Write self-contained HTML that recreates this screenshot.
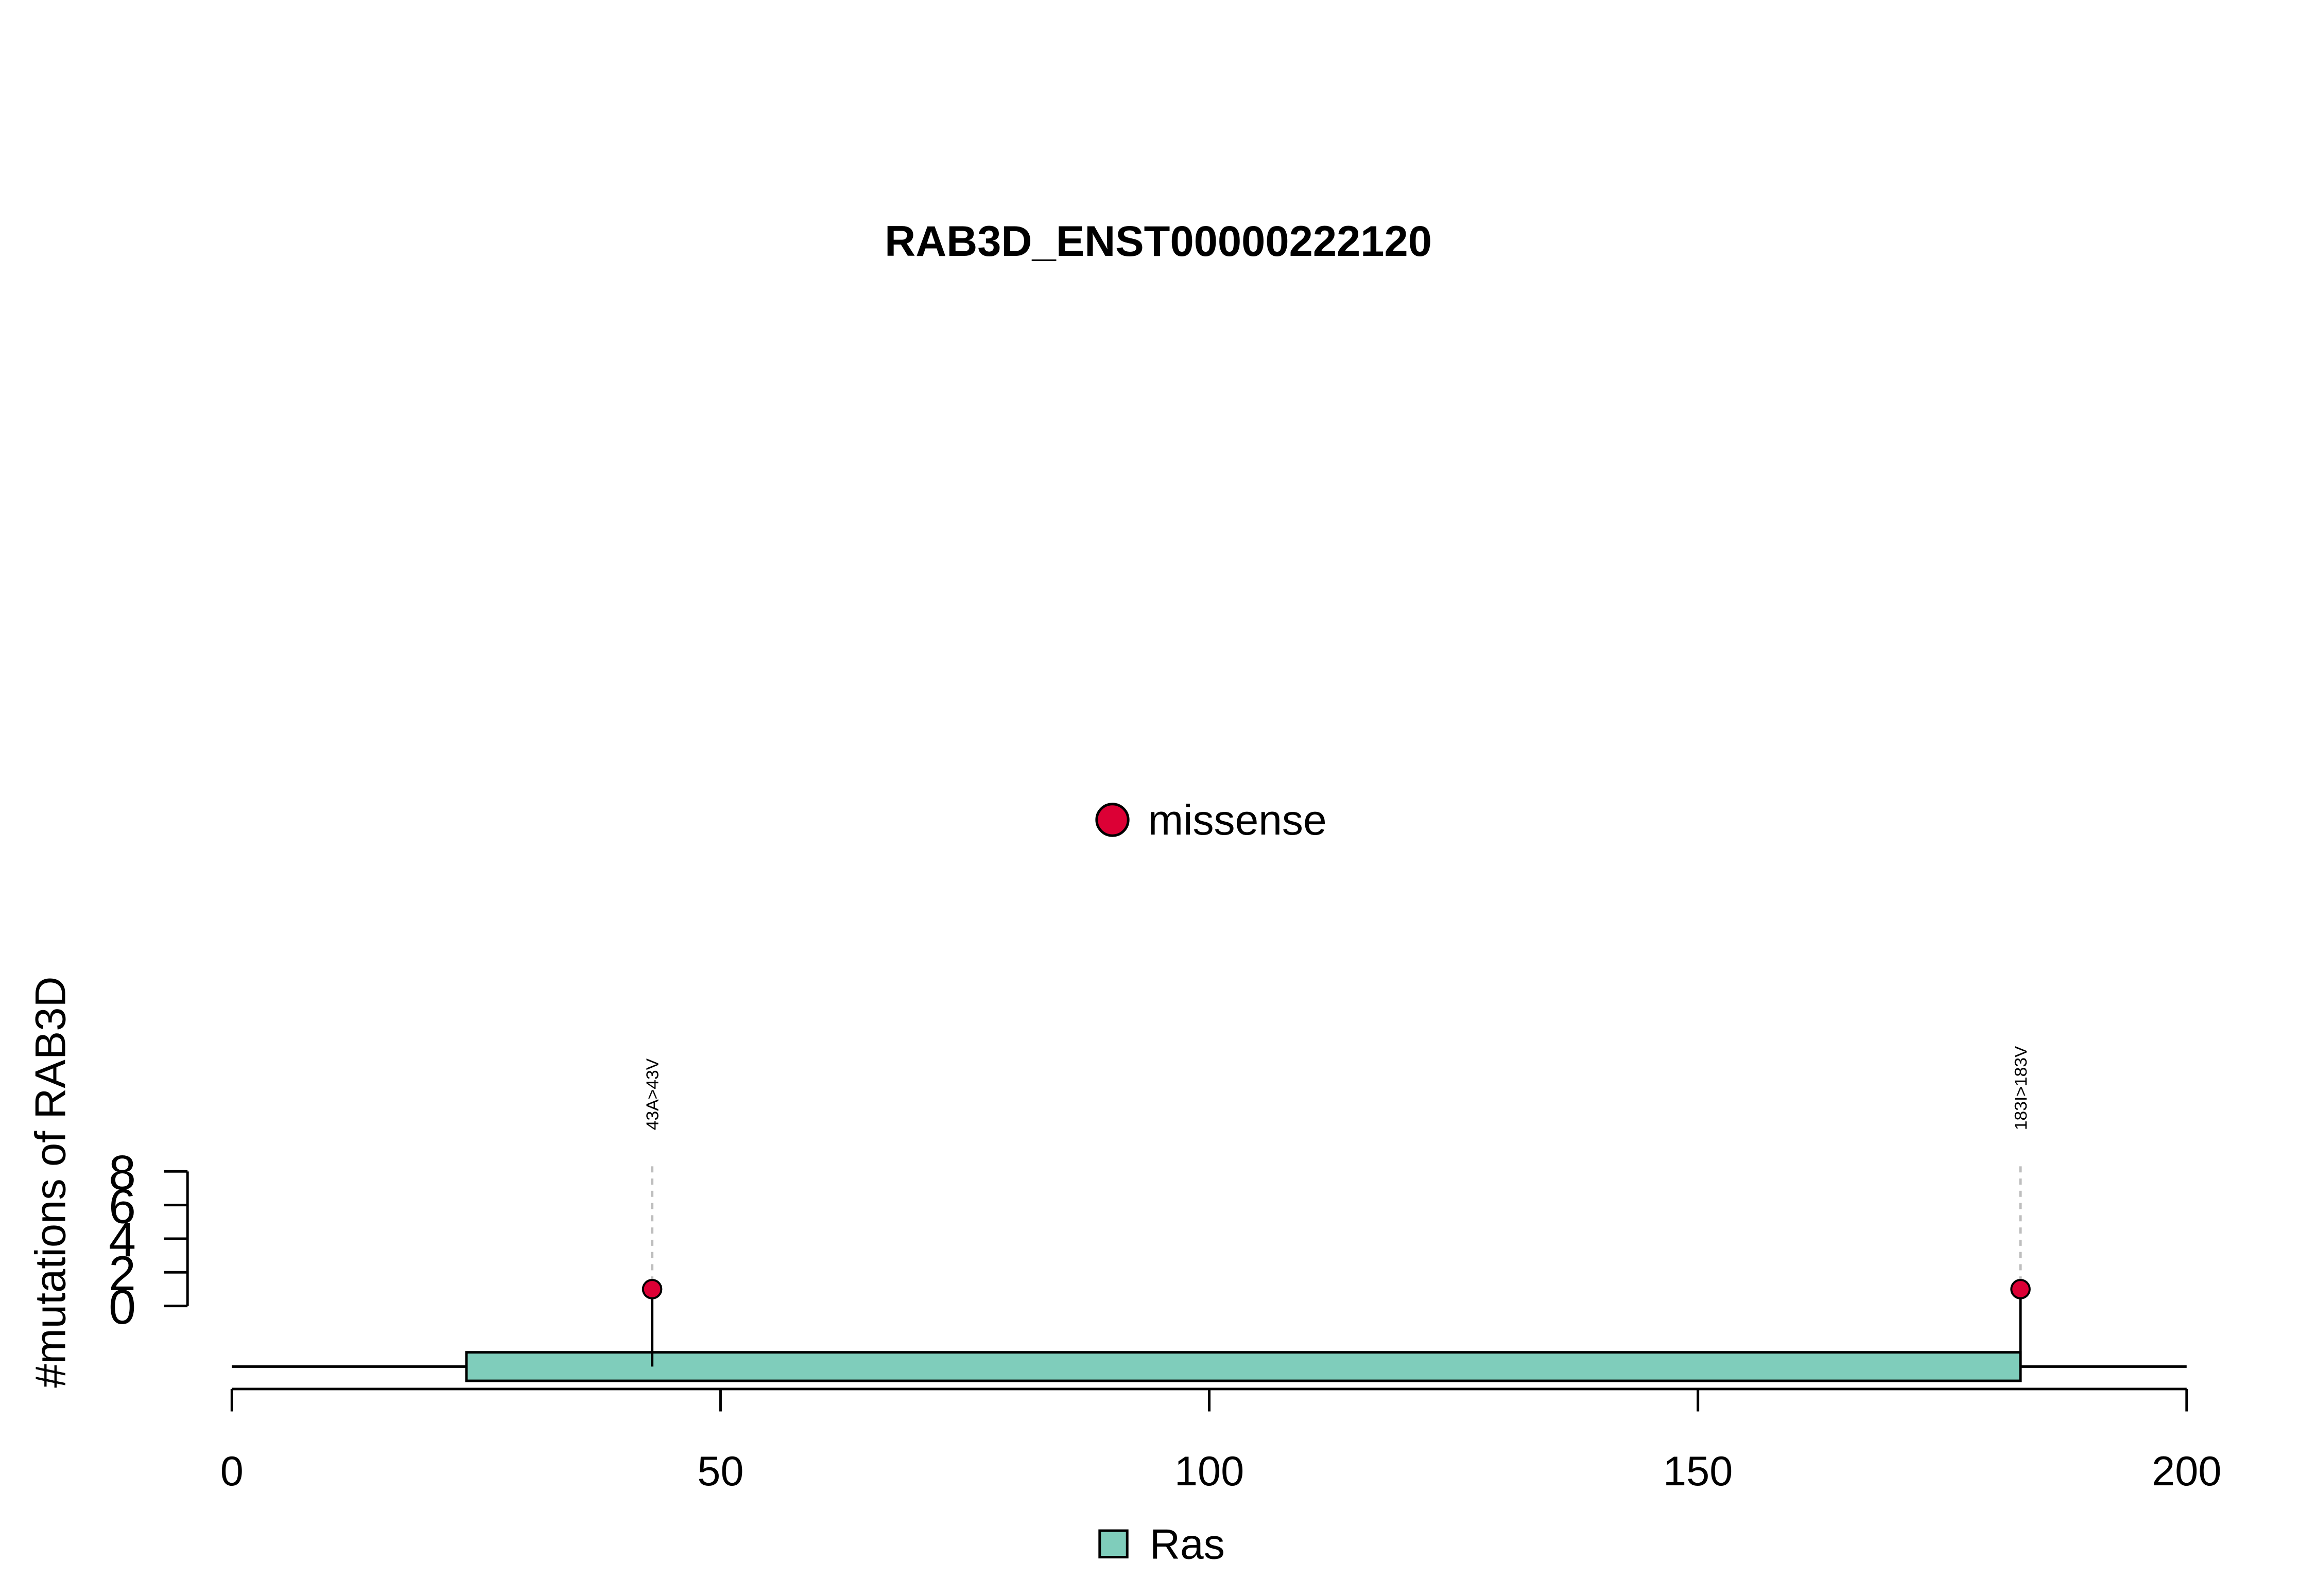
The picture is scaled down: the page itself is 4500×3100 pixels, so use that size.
<!DOCTYPE html>
<html><head><meta charset="utf-8"><style>
html,body{margin:0;padding:0;background:#fff;}
svg{display:block;font-family:"Liberation Sans",Arial,sans-serif;}
</style></head><body>
<svg id="chart" width="4500" height="3100" viewBox="0 0 4500 3100" xmlns="http://www.w3.org/2000/svg">
<rect width="4500" height="3100" fill="#fff"/>
<g transform="scale(0.9897)">
<text x="2273" y="502" font-size="84" font-weight="bold" text-anchor="middle">RAB3D_ENST00000222120</text>
<g>
<circle cx="2183" cy="1609" r="31" fill="#DC0035" stroke="#000" stroke-width="5"/>
<text x="2253" y="1638" font-size="83">missense</text>
</g>
<text transform="translate(128,2320) rotate(-90)" font-size="84" text-anchor="middle">#mutations of RAB3D</text>
<g id="yaxis"></g>
<g id="xaxis"></g>
<g id="protein"></g>
<g id="muts"></g>
<g>
<rect x="2158" y="3004" width="54" height="52" fill="#7FCDBB" stroke="#000" stroke-width="5"/>
<text x="2256" y="3059" font-size="83">Ras</text>
</g>
</g>
</svg>
<script>
const xTicks = [0, 50, 100, 150, 200];
const yTicks = [0, 2, 4, 6, 8];
const proteinLength = [200];
const domainNames = ["Ras"];
const domainStarts = [24];
const domainEnds = [183];
const mutPositions = [43, 183];
const mutCounts = [1, 1];
const mutLabels = ["43A>43V", "183I>183V"];

const NS = "http://www.w3.org/2000/svg";
const X0 = 455, X1 = 4291;
const xs = v => X0 + (v - 0) / (200 - 0) * (X1 - X0);
const Y0 = 2563, Y8 = 2299;
const ys = v => Y0 + v / 8 * (Y8 - Y0);
function mk(tag, attrs, parent, text) {
  const e = document.createElementNS(NS, tag);
  for (const k in attrs) e.setAttribute(k, attrs[k]);
  if (text !== undefined) e.textContent = text;
  parent.appendChild(e);
  return e;
}
const xa = document.getElementById('xaxis');
const AXY = 2726;
let l = mk('line', {x1: xs(xTicks[0]), x2: xs(xTicks[xTicks.length-1]), y1: AXY, y2: AXY, stroke: '#000', 'stroke-width': 5}, xa);


xTicks.forEach(t => {
  const tk = mk('line', {x1: xs(t), x2: xs(t), y1: AXY, y2: 2770, stroke: '#000', 'stroke-width': 5}, xa);
  
  
  const tl = mk('text', {x: xs(t), y: 2915, 'font-size': 82, 'text-anchor': 'middle'}, xa, String(t));
  
  
});
const ya = document.getElementById('yaxis');
const YAX = 368;
let yl = mk('line', {x1: YAX, x2: YAX, y1: ys(yTicks[0]), y2: ys(yTicks[yTicks.length-1]), stroke: '#000', 'stroke-width': 5}, ya);


yTicks.forEach(t => {
  const tk = mk('line', {x1: 322, x2: YAX, y1: ys(t), y2: ys(t), stroke: '#000', 'stroke-width': 5}, ya);
  
  
  const tl = mk('text', {x: 240, y: ys(t) + 35, 'font-size': 96, 'text-anchor': 'middle'}, ya, String(t));
  
  
});
const pr = document.getElementById('protein');
const BY = 2682;
let bb = mk('line', {x1: xs(0), x2: xs(proteinLength[0]), y1: BY, y2: BY, stroke: '#000', 'stroke-width': 5}, pr);


domainNames.forEach((n, i) => {
  const r = mk('rect', {x: xs(domainStarts[i]), y: 2654, width: xs(domainEnds[i]) - xs(domainStarts[i]), height: 56, fill: '#7FCDBB', stroke: '#000', 'stroke-width': 5}, pr);
  
  
});
const mg = document.getElementById('muts');
mutPositions.forEach((p, i) => {
  const x = xs(p);
  const dl = mk('line', {x1: x, x2: x, y1: ys(8) - 10, y2: ys(mutCounts[i]), stroke: '#BEBEBE', 'stroke-width': 5, 'stroke-dasharray': '12 12'}, mg);
  
  
  const st = mk('line', {x1: x, x2: x, y1: BY, y2: ys(mutCounts[i]), stroke: '#000', 'stroke-width': 5}, mg);
  
  
  const c = mk('circle', {cx: x, cy: ys(mutCounts[i]), r: 18, fill: '#DC0035', stroke: '#000', 'stroke-width': 4}, mg);
  
  
  const t = mk('text', {transform: 'translate(' + (x + 12) + ',2218) rotate(-90)', 'font-size': 34}, mg, mutLabels[i]);
  
  
});
</script>
</body></html>
